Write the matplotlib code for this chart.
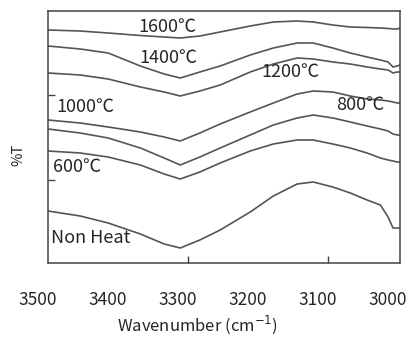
import numpy as np
import matplotlib
matplotlib.use("Agg")
import matplotlib.pyplot as plt
import matplotlib.transforms as mtransforms

plt.rcParams['font.family'] = ['Noto Sans CJK JP', 'DejaVu Sans']

# wavenumber grid (cm^-1) shared by all spectra
wavenumber = [3486, 3440, 3400, 3354, 3320, 3297, 3269, 3240, 3197, 3164,
              3130, 3107, 3079, 3054, 3030, 3011, 3000, 2993, 2987, 2983]

# %T (arbitrary offset units)
t_1600 = [233, 232, 230, 227.5, 226, 225, 227, 231, 237, 241,
          242, 241, 238, 236, 235.5, 235, 234.5, 234, 234, 235]
t_1400 = [217, 214, 210, 197, 189, 185, 191, 197, 208, 215,
          220, 220, 215, 210, 206, 203, 201, 196, 197, 198]
t_1200 = [190, 188, 184, 176, 171, 167, 172, 178, 191, 199,
          205, 204, 201, 199, 196, 194, 193, 190, 191, 191]
t_1000 = [143, 140, 136, 131, 126, 122, 130, 139, 151, 160,
          169, 172, 171, 167, 164, 163, 162, 161, 160, 160]
t_800 = [134, 130, 125, 115, 105, 98, 106, 115, 128, 138,
         145, 148, 145, 141, 137, 134, 132, 129, 128, 128]
t_600 = [112, 110, 106, 98, 89, 84, 91, 100, 112, 119,
         123, 123, 119, 115, 110, 105, 103, 102, 101, 101]
t_nonheat = [52, 47, 40, 29, 19, 15, 23, 33, 51, 67,
             79, 81, 76, 70, 63, 58, 46, 35, 35, 35]

series = [t_1600, t_1400, t_1200, t_1000, t_800, t_600, t_nonheat]

xtick_values = [3500, 3400, 3300, 3200, 3100, 3000]

# curve labels: (text, wavenumber, %T)
labels = [("1600℃", 3315, 236),
          ("1400℃", 3314, 205),
          ("1200℃", 3140, 191),
          ("1000℃", 3474, 156),
          ("800℃", 3040, 158),
          ("600℃", 3479, 96),
          ("Non Heat", 3482, 25)]

fig = plt.figure(figsize=(4.12, 3.38), dpi=100)
ax = fig.add_axes([48 / 412, 75 / 338, 352 / 412, 252 / 338])

line_color = "#555555"
text_color = "#262626"

for t in series:
    ax.plot(wavenumber, t, color=line_color, lw=1.2)

ax.set_xlim(3486, 2983)
ax.set_ylim(0, 252)

for sp in ax.spines.values():
    sp.set_color("#444444")
    sp.set_linewidth(1.1)

ax.set_xticks([3286, 3086])
ax.set_xticklabels([])
ax.set_yticks([83, 168])
ax.set_yticklabels([])
ax.tick_params(direction="in", length=5, color="#444444", width=1)

for txt, x, y in labels:
    ha = "left" if x > 3400 else "center"
    ax.text(x, y, txt, fontsize=13, color=text_color, ha=ha, va="center")

# tick labels: 3500 sits outside the plotted range, so draw them as text
trans = mtransforms.blended_transform_factory(ax.transData, ax.transAxes)
for v in xtick_values:
    ax.text(v, -0.147, str(v), transform=trans, fontsize=12.5, color=text_color,
            ha="center", va="center", clip_on=False)

fig.text(197 / 412, 1 - 325 / 338, "Wavenumber (cm$^{-1}$)", fontsize=12,
         color=text_color, ha="center", va="center")
fig.text(18 / 412, 1 - 155 / 338, "%T", fontsize=10.5, color=text_color,
         ha="center", va="center", rotation=90)

fig.savefig("out.png", dpi=100, facecolor="white")
